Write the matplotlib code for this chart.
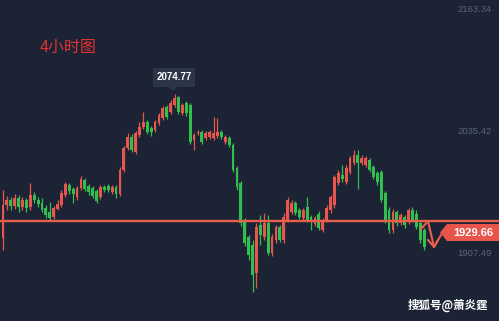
import matplotlib.pyplot as plt
from matplotlib.patches import Rectangle, Polygon

plt.rcParams['font.family'] = ['Liberation Sans', 'Noto Sans CJK SC', 'DejaVu Sans']

# --- 4小时K线 (读图估值) ---
opens = [1924.2, 1958.9, 1964.1, 1957.8, 1966.2, 1956.8, 1964.1, 1956.8, 1969.4, 1964.1,
         1960.9, 1955.7, 1951.5, 1946.2, 1954.7, 1958.9, 1969.4, 1979.9, 1975.7, 1967.3,
         1976.7, 1985.1, 1978.8, 1976.7, 1973.5, 1967.3, 1977.8, 1978.8, 1972.5, 1977.8,
         1970.4, 1995.6, 2018.6, 2030.2, 2014.4, 2032.3, 2040.7, 2045.9, 2039.6, 2037.5,
         2044.9, 2050.1, 2061.7, 2056.4, 2063.8, 2072.1, 2055.4, 2065.9, 2063.8, 2027.0,
         2034.3, 2035.4, 2029.1, 2030.2, 2029.1, 2031.2, 2035.4, 2024.9, 2029.1, 2021.8,
         1997.7, 1982.0, 1943.1, 1925.3, 1916.9, 1887.6, 1937.9, 1925.3, 1940.0, 1908.5,
         1922.2, 1935.8, 1922.2, 1943.1, 1951.5, 1960.9, 1953.6, 1945.2, 1956.8, 1946.2,
         1938.9, 1949.4, 1932.6, 1943.1, 1953.6, 1958.9, 1982.0, 1990.4, 1983.0, 1993.5,
         2002.9, 2011.3, 2002.9, 2000.8, 2006.0, 1998.7, 1992.4, 1993.5, 1971.5, 1953.6,
         1932.6, 1951.5, 1940.0, 1946.2, 1941.0, 1953.6, 1949.4, 1940.0, 1932.6]
closes = [1958.9, 1964.1, 1957.8, 1966.2, 1956.8, 1964.1, 1955.7, 1969.4, 1964.1, 1959.9,
          1953.6, 1948.4, 1945.2, 1955.7, 1959.9, 1971.5, 1980.9, 1973.5, 1970.4, 1976.7,
          1986.2, 1975.7, 1972.5, 1968.3, 1963.0, 1977.8, 1974.6, 1974.6, 1977.8, 1970.4,
          1995.6, 2018.6, 2030.2, 2016.5, 2034.3, 2040.7, 2045.9, 2035.4, 2035.4, 2045.9,
          2053.3, 2060.6, 2051.1, 2065.9, 2071.1, 2056.4, 2063.8, 2055.4, 2024.9, 2032.3,
          2035.4, 2024.9, 2034.3, 2035.4, 2034.3, 2035.4, 2030.2, 2030.2, 2021.8, 1995.6,
          1977.8, 1940.0, 1919.0, 1906.5, 1885.4, 1935.8, 1927.4, 1940.0, 1908.5, 1925.3,
          1935.8, 1922.2, 1946.2, 1964.1, 1960.9, 1950.5, 1946.2, 1953.6, 1943.1, 1941.0,
          1945.2, 1934.7, 1943.1, 1955.7, 1967.3, 1988.3, 1992.4, 1986.2, 1997.7, 2008.1,
          2011.3, 2002.9, 2008.1, 2008.1, 1995.6, 1988.3, 1983.0, 1964.1, 1943.1, 1932.6,
          1951.5, 1940.0, 1948.4, 1937.9, 1953.6, 1943.1, 1935.8, 1922.2, 1914.8]
highs = [1974.6, 1968.3, 1967.3, 1970.4, 1969.4, 1967.3, 1966.2, 1982.0, 1972.5, 1967.3,
         1966.2, 1958.9, 1962.0, 1957.8, 1964.1, 1974.6, 1983.0, 1982.0, 1977.8, 1978.8,
         1989.3, 1987.1, 1980.9, 1978.8, 1975.7, 1979.9, 1979.9, 1980.9, 1979.9, 1979.9,
         1998.7, 2020.7, 2034.3, 2033.3, 2036.5, 2045.9, 2056.4, 2048.0, 2041.7, 2048.0,
         2055.4, 2062.7, 2063.8, 2069.0, 2074.77, 2073.5, 2065.9, 2068.0, 2065.9, 2034.3,
         2037.5, 2037.5, 2036.5, 2037.5, 2051.1, 2050.1, 2037.5, 2032.3, 2031.2, 2023.9,
         1999.7, 1984.1, 1945.2, 1927.4, 1922.2, 1940.0, 1948.4, 1950.5, 1948.4, 1928.5,
         1937.9, 1937.9, 1950.5, 1967.3, 1964.1, 1963.0, 1955.7, 1955.7, 1967.3, 1948.4,
         1947.3, 1952.5, 1945.2, 1958.9, 1969.4, 1990.4, 1995.6, 2000.8, 2000.8, 2010.2,
         2016.5, 2016.5, 2011.3, 2010.2, 2008.1, 2000.8, 1994.5, 1995.6, 1973.5, 1956.8,
         1954.7, 1953.6, 1950.5, 1948.4, 1955.7, 1956.8, 1953.6, 1942.0, 1934.7]
lows = [1911.7, 1953.6, 1953.6, 1954.7, 1951.5, 1953.6, 1951.5, 1953.6, 1960.9, 1956.8,
        1951.5, 1945.2, 1943.1, 1944.1, 1953.6, 1956.8, 1967.3, 1970.4, 1960.9, 1964.1,
        1974.6, 1973.5, 1969.4, 1966.2, 1960.9, 1965.2, 1972.5, 1972.5, 1970.4, 1966.2,
        1968.3, 1993.5, 2016.5, 2014.4, 2012.3, 2030.2, 2038.6, 2033.3, 2031.2, 2035.4,
        2042.8, 2048.0, 2049.0, 2054.3, 2061.7, 2054.3, 2053.3, 2052.2, 2022.8, 2016.5,
        2032.3, 2022.8, 2027.0, 2028.1, 2027.0, 2029.1, 2028.1, 2022.8, 2019.7, 1993.5,
        1974.6, 1936.8, 1915.9, 1901.2, 1867.6, 1871.8, 1916.9, 1922.2, 1906.5, 1905.4,
        1919.0, 1920.1, 1919.0, 1941.0, 1949.4, 1948.4, 1944.1, 1943.1, 1941.0, 1932.6,
        1936.8, 1932.6, 1930.5, 1941.0, 1950.5, 1955.7, 1979.9, 1983.0, 1980.9, 1991.4,
        2000.8, 1975.7, 2000.8, 1998.7, 1993.5, 1986.2, 1979.9, 1962.0, 1940.0, 1929.5,
        1929.5, 1936.8, 1937.9, 1934.7, 1938.9, 1941.0, 1933.7, 1919.0, 1911.7]

axis_prices = [2163.34, 2035.42, 1907.49]
peak_price = 2074.77
last_price = 1929.66
support_level = 1942.1

BG = '#1c2335'
RED = '#e8574d'
GREEN = '#33bf4e'
LINE = '#e8604c'
W, H = 499, 321


def px(x, y):
    # 像素坐标 -> figure 坐标
    return (x / W, 1 - y / H)


fig = plt.figure(figsize=(W / 100, H / 100), dpi=100)
fig.patch.set_facecolor(BG)
ax = fig.add_axes([0, 0, 1, 1])
ax.set_facecolor(BG)
ax.set_xlim(-0.77, 127.2)
ax.set_ylim(1837.2, 2173.8)
ax.axis('off')

# --- K线 ---
for i, (o, c, h, l) in enumerate(zip(opens, closes, highs, lows)):
    col = RED if c >= o else GREEN
    ax.vlines(i, l, h, color=col, lw=0.9)
    ax.add_patch(Rectangle((i - 0.36, min(o, c)), 0.72, max(abs(c - o), 1.0),
                           facecolor=col, edgecolor='none'))

# 水平线
ax.axhline(support_level, color=LINE, lw=1.7, zorder=5)

# 右侧价格刻度
yt = ax.get_yaxis_transform()
for p in axis_prices:
    ax.text(0.986, p, f"{p:.2f}", transform=yt, ha='right', va='center',
            fontsize=6.8, color='#5b6477')

# 最高价标签
fig.patches.append(Rectangle(px(153, 87), 42 / W, 19 / H, transform=fig.transFigure,
                             facecolor='#2d3649', edgecolor='none'))
fig.patches.append(Polygon([px(169, 87), px(177, 87), px(173, 91)], closed=True,
                           transform=fig.transFigure, facecolor='#2d3649', edgecolor='none'))
fig.text(*px(174, 77.5), f"{peak_price:.2f}", ha='center', va='center',
         fontsize=7, fontweight='bold', color='white')

# 最新价标签
fig.patches.append(Polygon([px(440, 232.5), px(447, 224), px(499, 224), px(499, 241), px(447, 241)],
                           closed=True, transform=fig.transFigure, facecolor='#e8554a',
                           edgecolor='none'))
fig.text(*px(473, 233), f"{last_price:.2f}", ha='center', va='center',
         fontsize=8, fontweight='bold', color='white')

# 手绘箭头
arrow_pts = [px(421, 229), px(428, 221), px(434, 247), px(441, 235)]
fig.lines.append(plt.Line2D([p[0] for p in arrow_pts], [p[1] for p in arrow_pts],
                            transform=fig.transFigure, color=LINE, lw=1.5))
head_pts = [px(428, 240), px(434, 247), px(438, 240)]
fig.lines.append(plt.Line2D([p[0] for p in head_pts], [p[1] for p in head_pts],
                            transform=fig.transFigure, color=LINE, lw=1.5))

# 文字
fig.text(*px(40, 47), "4小时图", ha='left', va='center', fontsize=11.5,
         color='#e3322e', family=['Noto Sans CJK SC', 'DejaVu Sans'])
fig.text(*px(408, 305.5), "搜狐号@萧炎霆", ha='left', va='center', fontsize=8.3,
         fontweight='bold', color='white', family=['Noto Sans CJK SC', 'DejaVu Sans'])

fig.savefig('out.png', dpi=100, facecolor=BG)
